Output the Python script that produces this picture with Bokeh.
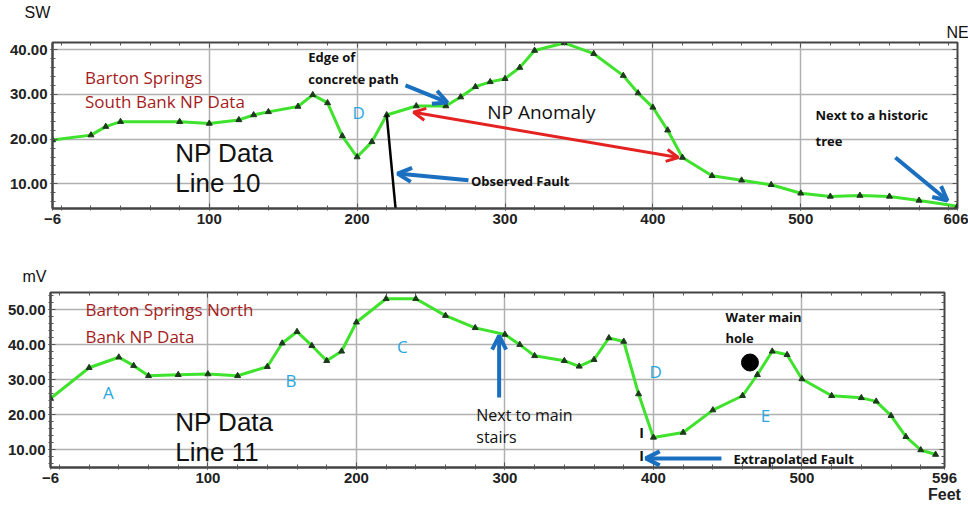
from bokeh.plotting import figure
from bokeh.layouts import column
from bokeh.models import (Range1d, FixedTicker, LinearAxis, Label, Arrow,
                          OpenHead, NumeralTickFormatter)
from bokeh.embed import file_html
from bokeh.resources import INLINE

# ---------------- data ----------------
line10_ft = [-6, 20, 30, 40, 80, 100, 120, 130, 140, 160, 170, 180, 190, 200, 210,
             220, 240, 260, 270, 280, 290, 300, 310, 320, 340, 360, 380, 390, 400,
             410, 420, 440, 460, 480, 500, 520, 540, 560, 580, 606]
line10_mv = [19.8, 20.9, 22.8, 23.9, 23.9, 23.5, 24.3, 25.4, 26.1, 27.3, 29.9, 28.1,
             20.7, 16.0, 19.4, 25.4, 27.4, 27.4, 29.4, 31.7, 32.8, 33.5, 36.0, 39.8,
             41.5, 39.1, 34.2, 30.3, 27.1, 22.0, 15.9, 11.8, 10.8, 9.8, 7.9, 7.2,
             7.4, 7.2, 6.3, 5.0]

line11_ft = [-6, 20, 40, 50, 60, 80, 100, 120, 140, 150, 160, 170, 180, 190, 200,
             220, 240, 260, 280, 300, 310, 320, 340, 350, 360, 370, 380, 390, 400,
             420, 440, 460, 470, 480, 490, 500, 520, 540, 550, 560, 570, 580, 590]
line11_mv = [24.6, 33.4, 36.4, 34.0, 31.1, 31.4, 31.6, 31.1, 33.7, 40.4, 43.7, 39.7,
             35.4, 38.1, 46.4, 53.1, 53.1, 48.3, 44.8, 42.9, 40.0, 36.8, 35.4, 33.8,
             35.7, 41.9, 40.9, 25.9, 13.5, 14.9, 21.3, 25.4, 31.4, 38.1, 37.1, 30.2,
             25.4, 24.8, 23.8, 19.7, 13.7, 9.9, 8.6]

x_ticks_10 = [-6, 100, 200, 300, 400, 500, 606]
x_ticks_11 = [-6, 100, 200, 300, 400, 500, 596]
y_ticks_10 = [10, 20, 30, 40]
y_ticks_11 = [10, 20, 30, 40, 50]

observed_fault_ft = [220, 226]
observed_fault_mv = [25.4, 4.5]
water_main_hole_ft = [465]
water_main_hole_mv = [34.9]

# ---------------- style ----------------
GREEN = "#3fe22c"
BLUE = "#1b6fc0"
RED = "#e52222"
DRED = "#a51c1c"
CYAN = "#2aa7e0"
TICKFONT = "Liberation Sans"
SANS = "Open Sans"


def tick_axis(ticks, minor):
    return LinearAxis(ticker=FixedTicker(ticks=ticks, minor_ticks=minor),
                      major_label_overrides={t: "" for t in ticks},
                      major_label_standoff=0, major_label_text_font_size="1px",
                      major_tick_in=5, major_tick_out=0, minor_tick_in=3,
                      minor_tick_out=0, axis_line_color="#444444",
                      major_tick_line_color="#555555",
                      minor_tick_line_color="#555555")


def make_fig(height, xr, yr, xt, yt, ml, mr, mt, mb, title, title_standoff):
    p = figure(width=968, height=height, x_range=Range1d(*xr), y_range=Range1d(*yr),
               output_backend="svg", toolbar_location=None, title=title,
               min_border_left=ml, min_border_right=mr, min_border_top=mt,
               min_border_bottom=mb)
    p.title.text_font = TICKFONT
    p.title.text_font_style = "normal"
    p.title.text_font_size = "16px"
    p.title.text_color = "#111111"
    p.title.align = "left"
    p.title.offset = -28
    p.title.standoff = title_standoff
    p.outline_line_color = "#444444"
    p.outline_line_width = 2
    xminor = list(range(0, 620, 20))
    yminor = list(range(4, 58, 2))
    bottom = p.below[0]
    left = p.left[0]
    bottom.ticker = FixedTicker(ticks=xt, minor_ticks=xminor)
    left.ticker = FixedTicker(ticks=yt, minor_ticks=yminor)
    left.formatter = NumeralTickFormatter(format="0.00")
    for ax in (bottom, left):
        ax.major_label_text_font = TICKFONT
        ax.major_label_text_font_style = "bold"
        ax.major_label_text_font_size = "15px"
        ax.major_label_text_color = "#222222"
        ax.axis_line_color = "#444444"
        ax.axis_line_width = 2
        ax.major_tick_in = 5
        ax.major_tick_out = 2
        ax.minor_tick_in = 3
        ax.minor_tick_out = 2
        ax.major_tick_line_color = "#555555"
        ax.minor_tick_line_color = "#555555"
        ax.major_label_standoff = 3
    top = tick_axis(xt, xminor)
    p.add_layout(top, "above")
    p.add_layout(tick_axis(yt, yminor), "right")
    p.grid.grid_line_color = "#b0b0b0"
    p.grid.grid_line_width = 1.5
    return p, top, bottom


def label(p, x, y, text, size, color="#111111", font=SANS, style="normal",
          align="left"):
    p.add_layout(Label(x=x, y=y, text=text, text_font=font, text_font_size=size,
                       text_color=color, text_font_style=style,
                       text_baseline="middle", text_align=align))


def arrow(p, x0, y0, x1, y1, color=BLUE, width=4, both=False, size=14):
    head = OpenHead(line_color=color, line_width=width, size=size)
    kw = {}
    if both:
        kw["start"] = OpenHead(line_color=color, line_width=width, size=size)
    p.add_layout(Arrow(x_start=x0, y_start=y0, x_end=x1, y_end=y1, line_color=color,
                       line_width=width, end=head, **kw))


# ---------------- top figure: Line 10 ----------------
p1, top1, bot1 = make_fig(250, (-6, 606), (4.5, 41.6), x_ticks_10, y_ticks_10,
                          52, 11, 42, 42, "SW", 0)
top1.axis_label = "NE"
top1.axis_label_align = "end"
top1.axis_label_standoff = 2
top1.axis_label_text_font = TICKFONT
top1.axis_label_text_font_style = "normal"
top1.axis_label_text_font_size = "16px"
top1.axis_label_text_color = "#111111"

p1.line(line10_ft, line10_mv, line_color=GREEN, line_width=3)
p1.scatter(line10_ft, line10_mv, marker="triangle", size=6, fill_color="#1d3a1d",
           line_color="#1d3a1d")
p1.line(observed_fault_ft, observed_fault_mv, line_color="black", line_width=2.5)

label(p1, 16, 33.8, "Barton Springs", "17px", DRED)
label(p1, 16, 28.4, "South Bank NP Data", "17px", DRED)
label(p1, 77, 17.0, "NP Data", "26px", "#111111", "Liberation Sans")
label(p1, 77, 10.1, "Line 10", "26px", "#111111", "Liberation Sans")
label(p1, 201, 26.0, "D", "17px", CYAN, align="center")
label(p1, 167, 38.3, "Edge of", "13px", style="bold")
label(p1, 167, 33.4, "concrete path", "13px", style="bold")
label(p1, 288, 26.0, "NP Anomaly", "19px")
label(p1, 277, 10.6, "Observed Fault", "13px", style="bold")
label(p1, 510, 25.3, "Next to a historic", "13px", style="bold")
label(p1, 510, 19.5, "tree", "13px", style="bold")

arrow(p1, 232.7, 32.0, 261.1, 28.2)
arrow(p1, 238.1, 26.0, 417.3, 15.9, color=RED, width=3, both=True, size=12)
arrow(p1, 275.3, 10.8, 227.3, 12.3)
arrow(p1, 564, 15.9, 599.2, 6.3)

# ---------------- bottom figure: Line 11 ----------------
p2, top2, bot2 = make_fig(255, (-6, 596), (4.9, 54.9), x_ticks_11, y_ticks_11,
                          50, 24, 42, 38, "mV", 16)
bot2.axis_label = "Feet"
bot2.axis_label_align = "end"
bot2.axis_label_standoff = 0
bot2.axis_label_text_font = TICKFONT
bot2.axis_label_text_font_style = "bold"
bot2.axis_label_text_font_size = "16px"
bot2.axis_label_text_color = "#222222"

p2.line(line11_ft, line11_mv, line_color=GREEN, line_width=3)
p2.scatter(line11_ft, line11_mv, marker="triangle", size=6, fill_color="#1d3a1d",
           line_color="#1d3a1d")
p2.scatter(water_main_hole_ft, water_main_hole_mv, marker="circle", size=17,
           fill_color="black", line_color="black")

label(p2, 17.5, 50.0, "Barton Springs North", "17px", DRED)
label(p2, 17.5, 42.3, "Bank NP Data", "17px", DRED)
label(p2, 33, 26.3, "A", "17px", CYAN, align="center")
label(p2, 156, 29.8, "B", "17px", CYAN, align="center")
label(p2, 231, 39.5, "C", "17px", CYAN, align="center")
label(p2, 401.5, 32.3, "D", "17px", CYAN, align="center")
label(p2, 475.4, 19.8, "E", "17px", CYAN, align="center")
label(p2, 78, 17.8, "NP Data", "26px", "#111111", "Liberation Sans")
label(p2, 78, 9.2, "Line 11", "26px", "#111111", "Liberation Sans")
label(p2, 280.7, 19.8, "Next to main", "16px")
label(p2, 280.7, 13.5, "stairs", "16px")
label(p2, 448.5, 47.8, "Water main", "13px", style="bold")
label(p2, 448.5, 41.8, "hole", "13px", style="bold")
label(p2, 453.9, 7.2, "Extrapolated Fault", "13px", style="bold")
label(p2, 392.1, 14.8, "I", "15px", "#111111", "Liberation Sans", "bold", align="center")
label(p2, 392.1, 8.2, "I", "15px", "#111111", "Liberation Sans", "bold", align="center")

arrow(p2, 296.1, 24.9, 296.1, 42.6)
arrow(p2, 445.8, 7.5, 394.8, 7.5)

layout = column(column(p1), column(p2), spacing=0)
open("out.html", "w").write(file_html(layout, INLINE))
